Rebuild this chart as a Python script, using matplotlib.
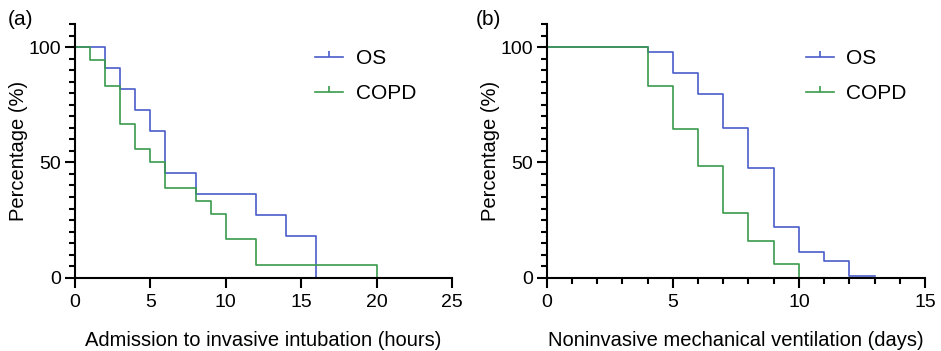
import matplotlib.pyplot as plt
from matplotlib.lines import Line2D
from matplotlib.path import Path
from matplotlib.ticker import MultipleLocator

plt.rcParams['font.family'] = ['Liberation Sans', 'DejaVu Sans']

# panel (a): admission to invasive intubation (hours)
a_os_t = [0, 2, 3, 4, 5, 6, 8, 12, 14, 16]
a_os_p = [100, 90.9, 81.8, 72.7, 63.6, 45.5, 36.4, 27.3, 18.2, 0]
a_copd_t = [0, 1, 2, 3, 4, 5, 6, 8, 9, 10, 12, 20]
a_copd_p = [100, 94.4, 83.3, 66.7, 55.6, 50, 38.9, 33.3, 27.8, 16.7, 5.6, 0]

# panel (b): noninvasive mechanical ventilation (days)
b_os_t = [0, 4, 5, 6, 7, 8, 9, 10, 11, 12, 13]
b_os_p = [100, 98, 88.8, 79.7, 64.9, 47.5, 21.9, 11.0, 7.4, 0.7, 0.7]
b_copd_t = [0, 4, 5, 6, 7, 8, 9, 10]
b_copd_p = [100, 83.3, 64.6, 48.6, 28, 15.9, 5.8, 0]

blue = '#4a5cc8'
green = '#3a9a4c'
tick_up = Path([(0, 0), (0, 1)])

fig = plt.figure(figsize=(9.41, 3.51), dpi=100)
ax1 = fig.add_axes([0.0797, 0.2088, 0.4006, 0.7228])
ax2 = fig.add_axes([0.581, 0.2088, 0.402, 0.7228])


def style(ax, xmax, xmajor, xminor, xlabel):
    ax.set_xlim(0, xmax)
    ax.set_ylim(0, 110)
    for s in ['top', 'right']:
        ax.spines[s].set_visible(False)
    for s in ['left', 'bottom']:
        ax.spines[s].set_linewidth(1.5)
    ax.set_yticks([0, 50, 100])
    ax.yaxis.set_minor_locator(MultipleLocator(5))
    ax.xaxis.set_major_locator(MultipleLocator(xmajor))
    if xminor:
        ax.xaxis.set_minor_locator(MultipleLocator(xminor))
    ax.tick_params(which='major', length=7, width=1.5, labelsize=14, pad=3)
    ax.tick_params(axis='x', which='major', pad=5)
    ax.tick_params(which='minor', length=4.5, width=1.5)
    ax.set_xlabel(xlabel, fontsize=14.5, labelpad=14)
    ax.set_ylabel('Percentage (%)', fontsize=14.5, labelpad=0)


def draw(ax, os_t, os_p, copd_t, copd_p, lx):
    ax.step(os_t, os_p, where='post', color=blue, lw=1.2, clip_on=False)
    ax.step(copd_t, copd_p, where='post', color=green, lw=1.2, clip_on=False)
    handles = [
        Line2D([], [], color=blue, lw=1.2, marker=tick_up, markersize=8, markeredgewidth=1.2),
        Line2D([], [], color=green, lw=1.2, marker=tick_up, markersize=8, markeredgewidth=1.2),
    ]
    ax.legend(handles, ['OS', 'COPD'], loc='upper left', bbox_to_anchor=(lx, 0.90),
              frameon=False, fontsize=15, numpoints=1, handlelength=1.35,
              labelspacing=0.75, handletextpad=0.6, borderpad=0, borderaxespad=0)


draw(ax1, a_os_t, a_os_p, a_copd_t, a_copd_p, 0.637)
style(ax1, 25, 5, None, 'Admission to invasive intubation (hours)')
draw(ax2, b_os_t, b_os_p, b_copd_t, b_copd_p, 0.685)
style(ax2, 15, 5, 1, 'Noninvasive mechanical ventilation (days)')

fig.text(0.008, 0.945, '(a)', fontsize=15, va='center')
fig.text(0.506, 0.945, '(b)', fontsize=15, va='center')

fig.savefig('out.png', dpi=100)
